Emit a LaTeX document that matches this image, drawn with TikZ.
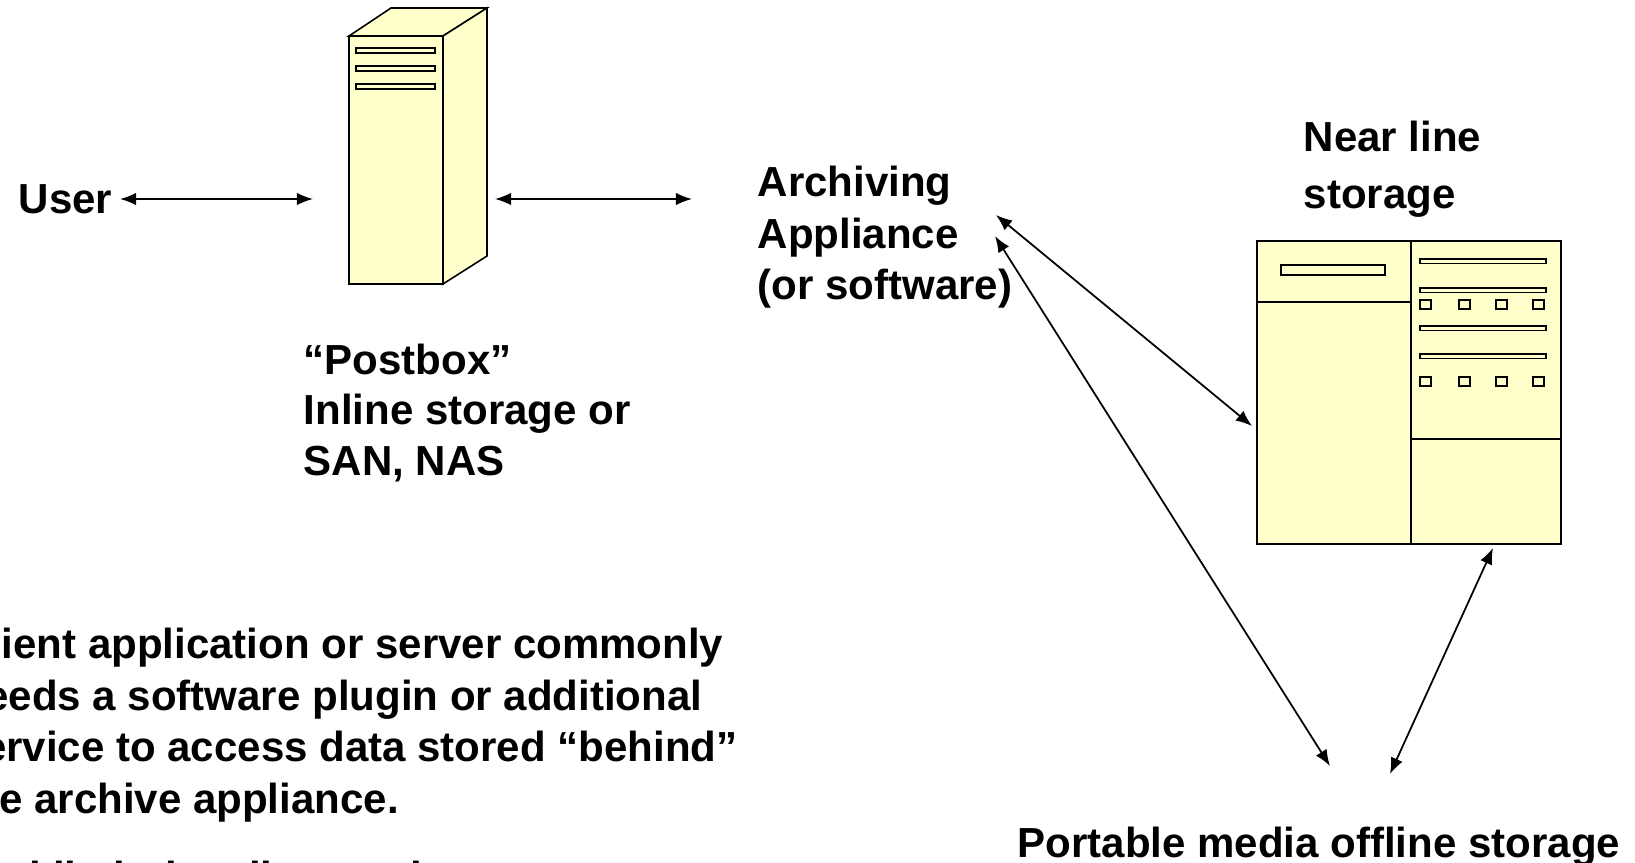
\documentclass[tikz,border=0pt]{standalone}
\usepackage{fontspec}
\setmainfont{Liberation Sans}
\usetikzlibrary{arrows.meta}
\definecolor{cream}{HTML}{FFFFCC}

\begin{document}
\begin{tikzpicture}[x=0.01cm,y=-0.01cm,
    lbl/.style={font=\fontsize{11.95pt}{14.75pt}\selectfont\bfseries,inner sep=0,align=left},
    box/.style={draw,fill=cream,line width=0.45pt},
    bar/.style={draw,fill=cream,line width=0.5pt},
    both/.style={{Latex[length=4.6pt,width=3.6pt]}-{Latex[length=4.6pt,width=3.6pt]},line width=0.5pt}]
  \useasboundingbox (0,0) rectangle (1635,863);
  \clip (0,0) rectangle (1635,863);
  % postbox tower
  \draw[box] (349,36) -- (391,8) -- (487,8) -- (443,36) -- cycle;
  \draw[box] (443,36) -- (487,8) -- (487,256) -- (443,284) -- cycle;
  \node[box,inner sep=0,minimum width=0.94cm,minimum height=2.48cm] (tower) at (396,160) {};
  \foreach \y in {48,66,84}
    \draw[bar] (356,\y) rectangle (435,\y+5);
  % near line cabinet
  \node[box,inner sep=0,minimum width=3.04cm,minimum height=3.03cm] (near) at (1409,392.5) {};
  \draw[line width=0.6pt] (1411,241) -- (1411,544);
  \draw[line width=0.45pt] (1257,302) -- (1411,302);
  \draw[line width=0.45pt] (1411,439) -- (1561,439);
  \draw[bar] (1281,265) rectangle (1385,275);
  \foreach \y in {259,288,326,354}
    \draw[bar] (1420,\y) rectangle (1546,\y+4.5);
  \foreach \x in {1420,1459,1496,1533}
    \foreach \y in {300,377}
      \draw[bar] (\x,\y) rectangle (\x+11,\y+9);
  % labels
  \node[lbl,anchor=west] (user) at (18,199) {User};
  \node[lbl,anchor=north west] (postbox) at (303,343) {“Postbox”\\[-0.4pt]Inline storage or\\[-0.4pt]SAN, NAS};
  \node[lbl,anchor=north west] (appl) at (757,165) {Archiving\\Appliance\\(or software)};
  \node[lbl,anchor=north west] (nearlbl) at (1303,120) {Near line\\[1.6pt]storage};
  \node[lbl,anchor=north west] (portable) at (1017,826) {Portable media offline storage};
  \node[lbl,anchor=north west] (note) at (-41,627) {Client application or server commonly\\needs a software plugin or additional\\service to access data stored “behind”\\the archive appliance.\\[7.3pt]And limit the client and};
  % links
  \coordinate (a1) at (120,199);
  \coordinate (a2) at (313,199);
  \coordinate (b1) at (495,199);
  \coordinate (b2) at (692,199);
  \coordinate (c1) at (996,215);
  \coordinate (c2) at (1252,426);
  \coordinate (d1) at (995,236);
  \coordinate (d2) at (1330,766);
  \coordinate (e1) at (1390,774);
  \coordinate (e2) at (1493,548);
  \draw[both] (a1) -- (a2);
  \draw[both] (b1) -- (b2);
  \draw[both] (c1) -- (c2);
  \draw[both] (d1) -- (d2);
  \draw[both] (e1) -- (e2);
\end{tikzpicture}
\end{document}
